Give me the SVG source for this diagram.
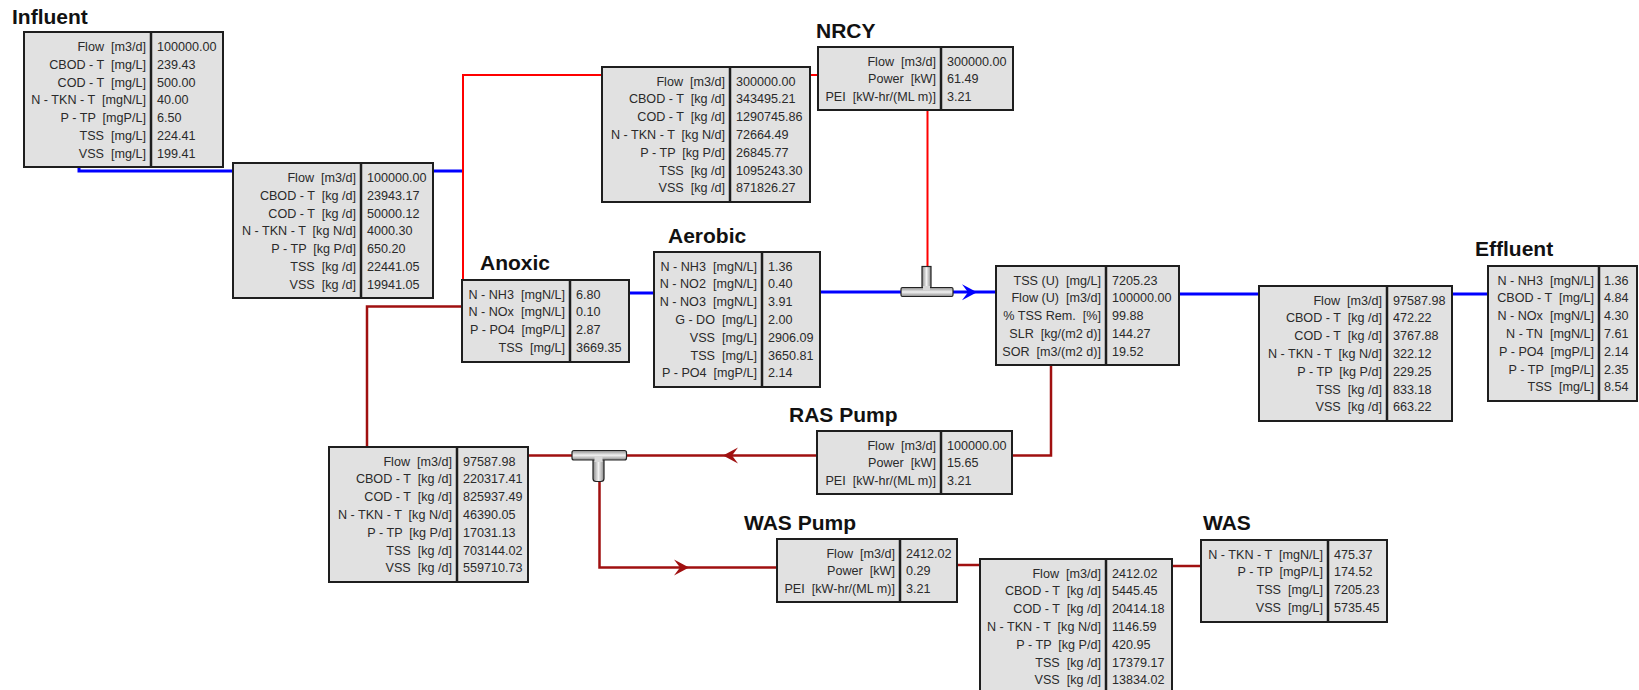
<svg xmlns="http://www.w3.org/2000/svg" width="1639" height="690" viewBox="0 0 1639 690">
<style>
text{white-space:pre;font-family:"Liberation Sans",Arial,sans-serif}
.box{fill:#e1e1e1;stroke:#1e1e1e;stroke-width:2}
.dv{stroke:#1e1e1e;stroke-width:2.5}
.l{font-size:12.6px;fill:#2a2a2a;text-anchor:end}
.v{font-size:12.6px;fill:#2a2a2a}
.t{font-size:21px;font-weight:bold;fill:#111}
.blue{fill:none;stroke:#0000ff;stroke-width:3}
.red{fill:none;stroke:#ff0000;stroke-width:2}
.dred{fill:none;stroke:#a01010;stroke-width:2.5}
.tee{stroke:#222;stroke-width:1.2}
</style>
<defs>
<path id="arr" d="M0,0 L-15,-8 L-9,0 L-15,8 Z"/>
<linearGradient id="gh" x1="0" y1="0" x2="0" y2="1">
<stop offset="0" stop-color="#8a8a8a"/><stop offset="0.5" stop-color="#f2f2f2"/><stop offset="1" stop-color="#8a8a8a"/>
</linearGradient>
<linearGradient id="gv" x1="0" y1="0" x2="1" y2="0">
<stop offset="0" stop-color="#8a8a8a"/><stop offset="0.5" stop-color="#f2f2f2"/><stop offset="1" stop-color="#8a8a8a"/>
</linearGradient>
</defs>
<rect width="1639" height="690" fill="#ffffff"/>

<g id="connectors">
<path class="blue" d="M79,166 V171 H463"/>
<path class="blue" d="M629,293 H654"/>
<path class="blue" d="M820,292 H996"/>
<path class="blue" d="M1179,294 H1259"/>
<path class="blue" d="M1452,294 H1488"/>
<path class="red" d="M927.5,267 V75 H463 V280"/>
<path class="dred" d="M1051,365 V455.5 H528"/>
<path class="dred" d="M367,447 V306.5 H462"/>
<path class="dred" d="M599.5,470 V567.5 H777"/>
<path class="dred" d="M957,565 H980"/>
<path class="dred" d="M1172,566 H1201"/>
<use href="#arr" transform="translate(977,292.3)" fill="#0000ff"/>
<use href="#arr" transform="translate(723,455.5) rotate(180)" fill="#a01010"/>
<use href="#arr" transform="translate(689,567.5)" fill="#a01010"/>
</g>

<g id="tee-nrcy">
<rect class="tee" x="922" y="266.5" width="9" height="25" fill="url(#gv)"/>
<rect class="tee" x="901" y="287.5" width="52" height="9" rx="1.5" fill="url(#gh)"/>
<rect x="923" y="286" width="7" height="4" fill="#d8d8d8"/>
</g>
<g id="tee-ras">
<rect class="tee" x="593" y="455" width="11" height="26.5" rx="3" fill="url(#gv)"/>
<rect class="tee" x="572" y="450.5" width="54.5" height="9.5" rx="2" fill="url(#gh)"/>
<rect x="594.5" y="457" width="8" height="5" fill="#d8d8d8"/>
</g>

<g id="influent">
<text class="t" x="12" y="24">Influent</text>
<rect class="box" x="24" y="32" width="199" height="135"/>
<line class="dv" x1="151" y1="32" x2="151" y2="167"/>
<text class="l" x="146" y="51">Flow  [m3/d]</text><text class="v" x="157" y="51">100000.00</text>
<text class="l" x="146" y="68.8">CBOD - T  [mg/L]</text><text class="v" x="157" y="68.8">239.43</text>
<text class="l" x="146" y="86.6">COD - T  [mg/L]</text><text class="v" x="157" y="86.6">500.00</text>
<text class="l" x="146" y="104.4">N - TKN - T  [mgN/L]</text><text class="v" x="157" y="104.4">40.00</text>
<text class="l" x="146" y="122.2">P - TP  [mgP/L]</text><text class="v" x="157" y="122.2">6.50</text>
<text class="l" x="146" y="140">TSS  [mg/L]</text><text class="v" x="157" y="140">224.41</text>
<text class="l" x="146" y="157.8">VSS  [mg/L]</text><text class="v" x="157" y="157.8">199.41</text>
</g>

<g id="influent-stream">
<rect class="box" x="233" y="163" width="200" height="135"/>
<line class="dv" x1="361" y1="163" x2="361" y2="298"/>
<text class="l" x="356" y="182">Flow  [m3/d]</text><text class="v" x="367" y="182">100000.00</text>
<text class="l" x="356" y="199.8">CBOD - T  [kg /d]</text><text class="v" x="367" y="199.8">23943.17</text>
<text class="l" x="356" y="217.6">COD - T  [kg /d]</text><text class="v" x="367" y="217.6">50000.12</text>
<text class="l" x="356" y="235.4">N - TKN - T  [kg N/d]</text><text class="v" x="367" y="235.4">4000.30</text>
<text class="l" x="356" y="253.2">P - TP  [kg P/d]</text><text class="v" x="367" y="253.2">650.20</text>
<text class="l" x="356" y="271">TSS  [kg /d]</text><text class="v" x="367" y="271">22441.05</text>
<text class="l" x="356" y="288.8">VSS  [kg /d]</text><text class="v" x="367" y="288.8">19941.05</text>
</g>

<g id="nrcy-stream">
<rect class="box" x="602" y="67" width="208" height="135"/>
<line class="dv" x1="730" y1="67" x2="730" y2="202"/>
<text class="l" x="725" y="85.5">Flow  [m3/d]</text><text class="v" x="736" y="85.5">300000.00</text>
<text class="l" x="725" y="103.3">CBOD - T  [kg /d]</text><text class="v" x="736" y="103.3">343495.21</text>
<text class="l" x="725" y="121.1">COD - T  [kg /d]</text><text class="v" x="736" y="121.1">1290745.86</text>
<text class="l" x="725" y="138.9">N - TKN - T  [kg N/d]</text><text class="v" x="736" y="138.9">72664.49</text>
<text class="l" x="725" y="156.7">P - TP  [kg P/d]</text><text class="v" x="736" y="156.7">26845.77</text>
<text class="l" x="725" y="174.5">TSS  [kg /d]</text><text class="v" x="736" y="174.5">1095243.30</text>
<text class="l" x="725" y="192.3">VSS  [kg /d]</text><text class="v" x="736" y="192.3">871826.27</text>
</g>

<g id="nrcy">
<text class="t" x="816" y="38">NRCY</text>
<rect class="box" x="818" y="47" width="195" height="63"/>
<line class="dv" x1="941" y1="47" x2="941" y2="110"/>
<text class="l" x="936" y="65.5">Flow  [m3/d]</text><text class="v" x="947" y="65.5">300000.00</text>
<text class="l" x="936" y="83.3">Power  [kW]</text><text class="v" x="947" y="83.3">61.49</text>
<text class="l" x="936" y="101.1">PEI  [kW-hr/(ML m)]</text><text class="v" x="947" y="101.1">3.21</text>
</g>

<g id="anoxic">
<text class="t" x="480" y="270">Anoxic</text>
<rect class="box" x="462" y="280" width="167" height="82"/>
<line class="dv" x1="570" y1="280" x2="570" y2="362"/>
<text class="l" x="565" y="298.5">N - NH3  [mgN/L]</text><text class="v" x="576" y="298.5">6.80</text>
<text class="l" x="565" y="316.3">N - NOx  [mgN/L]</text><text class="v" x="576" y="316.3">0.10</text>
<text class="l" x="565" y="334.1">P - PO4  [mgP/L]</text><text class="v" x="576" y="334.1">2.87</text>
<text class="l" x="565" y="351.9">TSS  [mg/L]</text><text class="v" x="576" y="351.9">3669.35</text>
</g>

<g id="aerobic">
<text class="t" x="668" y="243">Aerobic</text>
<rect class="box" x="654" y="252" width="166" height="135"/>
<line class="dv" x1="762" y1="252" x2="762" y2="387"/>
<text class="l" x="757" y="270.5">N - NH3  [mgN/L]</text><text class="v" x="768" y="270.5">1.36</text>
<text class="l" x="757" y="288.3">N - NO2  [mgN/L]</text><text class="v" x="768" y="288.3">0.40</text>
<text class="l" x="757" y="306.1">N - NO3  [mgN/L]</text><text class="v" x="768" y="306.1">3.91</text>
<text class="l" x="757" y="323.9">G - DO  [mg/L]</text><text class="v" x="768" y="323.9">2.00</text>
<text class="l" x="757" y="341.7">VSS  [mg/L]</text><text class="v" x="768" y="341.7">2906.09</text>
<text class="l" x="757" y="359.5">TSS  [mg/L]</text><text class="v" x="768" y="359.5">3650.81</text>
<text class="l" x="757" y="377.3">P - PO4  [mgP/L]</text><text class="v" x="768" y="377.3">2.14</text>
</g>

<g id="clarifier">
<rect class="box" x="996" y="266" width="183" height="99"/>
<line class="dv" x1="1106" y1="266" x2="1106" y2="365"/>
<text class="l" x="1101" y="284.5">TSS (U)  [mg/L]</text><text class="v" x="1112" y="284.5">7205.23</text>
<text class="l" x="1101" y="302.3">Flow (U)  [m3/d]</text><text class="v" x="1112" y="302.3">100000.00</text>
<text class="l" x="1101" y="320.1">% TSS Rem.  [%]</text><text class="v" x="1112" y="320.1">99.88</text>
<text class="l" x="1101" y="337.9">SLR  [kg/(m2 d)]</text><text class="v" x="1112" y="337.9">144.27</text>
<text class="l" x="1101" y="355.7">SOR  [m3/(m2 d)]</text><text class="v" x="1112" y="355.7">19.52</text>
</g>

<g id="effluent-stream">
<rect class="box" x="1259" y="286" width="193" height="135"/>
<line class="dv" x1="1387" y1="286" x2="1387" y2="421"/>
<text class="l" x="1382" y="304.5">Flow  [m3/d]</text><text class="v" x="1393" y="304.5">97587.98</text>
<text class="l" x="1382" y="322.3">CBOD - T  [kg /d]</text><text class="v" x="1393" y="322.3">472.22</text>
<text class="l" x="1382" y="340.1">COD - T  [kg /d]</text><text class="v" x="1393" y="340.1">3767.88</text>
<text class="l" x="1382" y="357.9">N - TKN - T  [kg N/d]</text><text class="v" x="1393" y="357.9">322.12</text>
<text class="l" x="1382" y="375.7">P - TP  [kg P/d]</text><text class="v" x="1393" y="375.7">229.25</text>
<text class="l" x="1382" y="393.5">TSS  [kg /d]</text><text class="v" x="1393" y="393.5">833.18</text>
<text class="l" x="1382" y="411.3">VSS  [kg /d]</text><text class="v" x="1393" y="411.3">663.22</text>
</g>

<g id="effluent">
<text class="t" x="1475" y="256">Effluent</text>
<rect class="box" x="1488" y="266" width="149" height="135"/>
<line class="dv" x1="1599" y1="266" x2="1599" y2="401"/>
<text class="l" x="1594" y="284.5">N - NH3  [mgN/L]</text><text class="v" x="1604" y="284.5">1.36</text>
<text class="l" x="1594" y="302.3">CBOD - T  [mg/L]</text><text class="v" x="1604" y="302.3">4.84</text>
<text class="l" x="1594" y="320.1">N - NOx  [mgN/L]</text><text class="v" x="1604" y="320.1">4.30</text>
<text class="l" x="1594" y="337.9">N - TN  [mgN/L]</text><text class="v" x="1604" y="337.9">7.61</text>
<text class="l" x="1594" y="355.7">P - PO4  [mgP/L]</text><text class="v" x="1604" y="355.7">2.14</text>
<text class="l" x="1594" y="373.5">P - TP  [mgP/L]</text><text class="v" x="1604" y="373.5">2.35</text>
<text class="l" x="1594" y="391.3">TSS  [mg/L]</text><text class="v" x="1604" y="391.3">8.54</text>
</g>

<g id="ras-pump">
<text class="t" x="789" y="422">RAS Pump</text>
<rect class="box" x="817" y="431" width="195" height="63"/>
<line class="dv" x1="941" y1="431" x2="941" y2="494"/>
<text class="l" x="936" y="449.5">Flow  [m3/d]</text><text class="v" x="947" y="449.5">100000.00</text>
<text class="l" x="936" y="467.3">Power  [kW]</text><text class="v" x="947" y="467.3">15.65</text>
<text class="l" x="936" y="485.1">PEI  [kW-hr/(ML m)]</text><text class="v" x="947" y="485.1">3.21</text>
</g>

<g id="ras-stream">
<rect class="box" x="329" y="447" width="199" height="135"/>
<line class="dv" x1="457" y1="447" x2="457" y2="582"/>
<text class="l" x="452" y="465.5">Flow  [m3/d]</text><text class="v" x="463" y="465.5">97587.98</text>
<text class="l" x="452" y="483.3">CBOD - T  [kg /d]</text><text class="v" x="463" y="483.3">220317.41</text>
<text class="l" x="452" y="501.1">COD - T  [kg /d]</text><text class="v" x="463" y="501.1">825937.49</text>
<text class="l" x="452" y="518.9">N - TKN - T  [kg N/d]</text><text class="v" x="463" y="518.9">46390.05</text>
<text class="l" x="452" y="536.7">P - TP  [kg P/d]</text><text class="v" x="463" y="536.7">17031.13</text>
<text class="l" x="452" y="554.5">TSS  [kg /d]</text><text class="v" x="463" y="554.5">703144.02</text>
<text class="l" x="452" y="572.3">VSS  [kg /d]</text><text class="v" x="463" y="572.3">559710.73</text>
</g>

<g id="was-pump">
<text class="t" x="744" y="530">WAS Pump</text>
<rect class="box" x="777" y="539" width="180" height="63"/>
<line class="dv" x1="900" y1="539" x2="900" y2="602"/>
<text class="l" x="895" y="557.5">Flow  [m3/d]</text><text class="v" x="906" y="557.5">2412.02</text>
<text class="l" x="895" y="575.3">Power  [kW]</text><text class="v" x="906" y="575.3">0.29</text>
<text class="l" x="895" y="593.1">PEI  [kW-hr/(ML m)]</text><text class="v" x="906" y="593.1">3.21</text>
</g>

<g id="was-stream">
<rect class="box" x="980" y="559" width="192" height="135"/>
<line class="dv" x1="1106" y1="559" x2="1106" y2="694"/>
<text class="l" x="1101" y="577.5">Flow  [m3/d]</text><text class="v" x="1112" y="577.5">2412.02</text>
<text class="l" x="1101" y="595.3">CBOD - T  [kg /d]</text><text class="v" x="1112" y="595.3">5445.45</text>
<text class="l" x="1101" y="613.1">COD - T  [kg /d]</text><text class="v" x="1112" y="613.1">20414.18</text>
<text class="l" x="1101" y="630.9">N - TKN - T  [kg N/d]</text><text class="v" x="1112" y="630.9">1146.59</text>
<text class="l" x="1101" y="648.7">P - TP  [kg P/d]</text><text class="v" x="1112" y="648.7">420.95</text>
<text class="l" x="1101" y="666.5">TSS  [kg /d]</text><text class="v" x="1112" y="666.5">17379.17</text>
<text class="l" x="1101" y="684.3">VSS  [kg /d]</text><text class="v" x="1112" y="684.3">13834.02</text>
</g>

<g id="was">
<text class="t" x="1203" y="530">WAS</text>
<rect class="box" x="1201" y="540" width="186" height="82"/>
<line class="dv" x1="1328" y1="540" x2="1328" y2="622"/>
<text class="l" x="1323" y="558.5">N - TKN - T  [mgN/L]</text><text class="v" x="1334" y="558.5">475.37</text>
<text class="l" x="1323" y="576.3">P - TP  [mgP/L]</text><text class="v" x="1334" y="576.3">174.52</text>
<text class="l" x="1323" y="594.1">TSS  [mg/L]</text><text class="v" x="1334" y="594.1">7205.23</text>
<text class="l" x="1323" y="611.9">VSS  [mg/L]</text><text class="v" x="1334" y="611.9">5735.45</text>
</g>
</svg>
